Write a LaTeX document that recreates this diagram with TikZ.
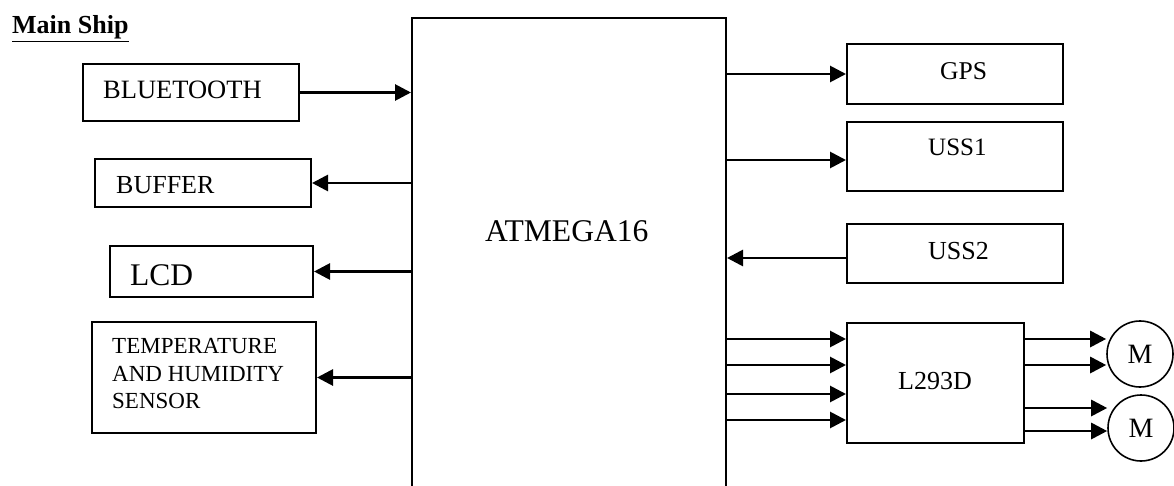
\documentclass[tikz,border=0pt]{standalone}
\usepackage{fontspec}
\setmainfont{Liberation Serif}
\usetikzlibrary{arrows.meta}
\newcommand\myfs[1]{\fontsize{#1}{#1}\selectfont}
\begin{document}
\begin{tikzpicture}[x=1pt,y=-1pt,
  box/.style={draw, line width=2pt, anchor=north west, inner sep=0pt},
  txt/.style={anchor=base west, inner sep=0pt},
  arr/.style={line width=2.8pt, -{Triangle[length=16pt,width=16pt]}},
  motor/.style={draw, circle, line width=1.6pt, minimum size=66pt, inner sep=0pt, font=\myfs{28}}]
\clip (0,0) rectangle (1174,486);
\fill[white] (0,0) rectangle (1174,486);
% title
\node[txt, font=\bfseries\myfs{26}] (title) at (12,34) {\underline{Main Ship}};
% left boxes
\node[box, minimum width=216pt, minimum height=57pt] (bt) at (82,63) {};
\node[txt, font=\myfs{26.5}] (btt) at (103,99) {BLUETOOTH};
\node[box, minimum width=216pt, minimum height=48pt] (buf) at (94,158) {};
\node[txt, font=\myfs{26}] (buft) at (116,194) {BUFFER};
\node[box, minimum width=203pt, minimum height=51pt] (lcd) at (109,245) {};
\node[txt, font=\myfs{31.5}] (lcdt) at (130,285) {LCD};
\node[box, minimum width=224pt, minimum height=111pt] (tmp) at (91,321) {};
\node[txt, font=\myfs{23}] (t1) at (112,353) {TEMPERATURE};
\node[txt, font=\myfs{23}] (t2) at (112,381) {AND HUMIDITY};
\node[txt, font=\myfs{23}] (t3) at (112,408) {SENSOR};
% controller
\node[box, minimum width=314pt, minimum height=500pt] (atm) at (411,17) {};
\node[txt, font=\myfs{31.6}] (atmt) at (485,241) {ATMEGA16};
% right boxes
\node[box, minimum width=216pt, minimum height=60pt] (gps) at (846,43) {};
\node[txt, font=\myfs{25.6}] (gpst) at (940,80) {GPS};
\node[box, minimum width=216pt, minimum height=69pt] (uss1) at (846,121) {};
\node[txt, font=\myfs{25}] (uss1t) at (928,156) {USS1};
\node[box, minimum width=216pt, minimum height=59pt] (uss2) at (846,223) {};
\node[txt, font=\myfs{26}] (uss2t) at (928,259) {USS2};
\node[box, minimum width=177pt, minimum height=120pt] (drv) at (846,322) {};
\node[txt, font=\myfs{26}] (drvt) at (898,389) {L293D};
\node[motor] (m1) at (1140,354) {M};
\node[motor] (m2) at (1141,428) {M};
% connectors
\draw[arr] (bt.east) -- (bt.east -| atm.west);
\draw[arr] (atm.west |- buf.east) -- (buf.east);
\draw[arr] (atm.west |- lcd.east) -- (lcd.east);
\draw[arr] (atm.west |- tmp.east) -- (tmp.east);
\draw[arr] (atm.east |- gps.west) -- (gps.west);
\coordinate (u1w) at ([yshift=-3.5pt]uss1.west);
\draw[arr] (atm.east |- u1w) -- (u1w);
\coordinate (u2w) at ([yshift=-4.5pt]uss2.west);
\draw[arr] (u2w) -- (atm.east |- u2w);
\foreach \o [count=\i] in {17,43,72,98}{
  \coordinate (in\i) at ([yshift=-\o pt]drv.north west);
  \draw[arr] (atm.east |- in\i) -- (in\i);
}
\foreach \o [count=\i] in {17,43}{
  \coordinate (oa\i) at ([yshift=-\o pt]drv.north east);
  \draw[arr] (oa\i) -- (oa\i -| m1.west);
}
\foreach \o [count=\i] in {86,109}{
  \coordinate (ob\i) at ([yshift=-\o pt]drv.north east);
  \draw[arr] (ob\i) -- (ob\i -| m2.west);
}
\end{tikzpicture}
\end{document}
